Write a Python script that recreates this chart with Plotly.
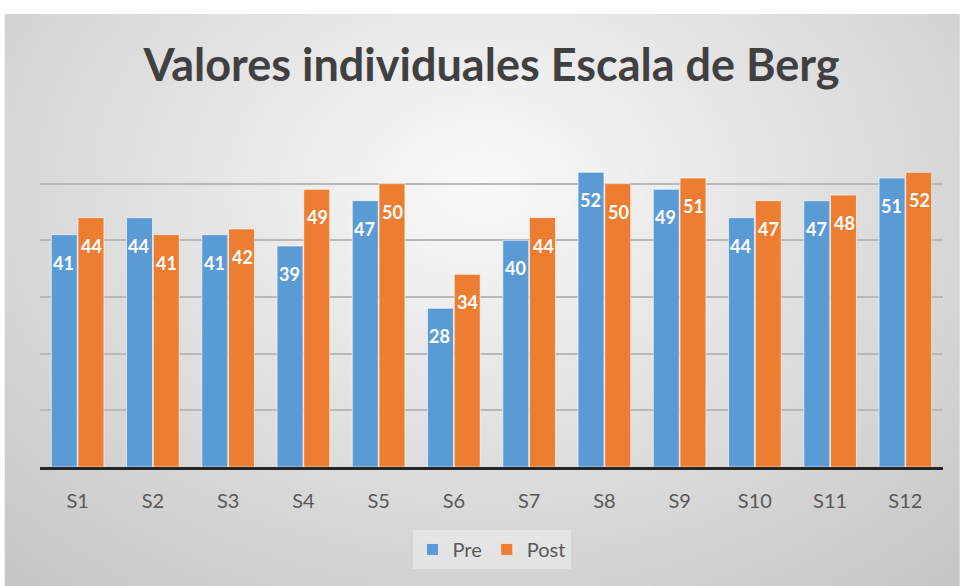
import base64, struct, zlib
import numpy as np
import plotly.graph_objects as go

categories = ["S1", "S2", "S3", "S4", "S5", "S6", "S7", "S8", "S9", "S10", "S11", "S12"]
pre_values = [41, 44, 41, 39, 47, 28, 40, 52, 49, 44, 47, 51]
post_values = [44, 41, 42, 49, 50, 34, 44, 50, 51, 47, 48, 52]
title_text = "Valores individuales Escala de Berg"

PRE_COLOR = "#5B9BD5"
POST_COLOR = "#ED7D31"


def gradient_png(w=240, h=146):
    xs = (np.arange(w) + 0.5) / w
    ys = (np.arange(h) + 0.5) / h
    X, Y = np.meshgrid(xs, ys)
    d = np.sqrt(((X - 0.5) / 0.6) ** 2 + ((Y - 0.3) / 0.75) ** 2)
    g = np.clip(250 - 42 * d, 185, 250).astype(np.uint8)
    raw = b"".join(b"\x00" + g[r].tobytes() for r in range(h))

    def chunk(t, data):
        c = struct.pack(">I", len(data)) + t + data
        return c + struct.pack(">I", zlib.crc32(t + data) & 0xFFFFFFFF)

    png = b"\x89PNG\r\n\x1a\n"
    png += chunk(b"IHDR", struct.pack(">IIBBBBB", w, h, 8, 0, 0, 0, 0))
    png += chunk(b"IDAT", zlib.compress(raw, 9))
    png += chunk(b"IEND", b"")
    return "data:image/png;base64," + base64.b64encode(png).decode()


fig = go.Figure()
fig.add_trace(go.Bar(name="Pre", x=categories, y=pre_values,
                     marker=dict(color=PRE_COLOR, line=dict(color="rgba(255,255,255,0.6)", width=1))))
fig.add_trace(go.Bar(name="Post", x=categories, y=post_values,
                     marker=dict(color=POST_COLOR, line=dict(color="rgba(255,255,255,0.6)", width=1))))

annotations = []
for c, pv, qv in zip(categories, pre_values, post_values):
    for v, sh in ((pv, -14), (qv, 14)):
        annotations.append(dict(x=c, y=v, xref="x", yref="y", text=str(v), showarrow=False,
                                xshift=sh, yshift=-28,
                                font=dict(family="Lato", size=18, color="white", weight="bold")))

fig.update_layout(
    width=960, height=586,
    margin=dict(l=40, r=17, t=127, b=119),
    paper_bgcolor="white",
    plot_bgcolor="rgba(0,0,0,0)",
    barmode="group",
    bargap=0.29,
    bargroupgap=0.03,
    title=dict(text=title_text, x=0.512, xanchor="center", y=0.889, yanchor="middle",
               font=dict(family="Lato", size=45, color="#404040", weight="bold")),
    xaxis=dict(showgrid=False, showline=True, linecolor="#262626", linewidth=3,
               ticks="", ticklabelstandoff=14, tickfont=dict(family="Lato", size=20, color="#595959")),
    yaxis=dict(range=[0, 60], dtick=10, showgrid=True, gridcolor="#b8b8b8", gridwidth=1.5,
               showticklabels=False, zeroline=False, fixedrange=True),
    legend=dict(orientation="h", x=0.5, xanchor="center", y=-0.185, yanchor="top",
                bgcolor="rgba(255,255,255,0.35)", font=dict(family="Lato", size=20, color="#595959"),
                itemwidth=30),
    showlegend=True,
    annotations=annotations,
    images=[dict(source=gradient_png(), xref="paper", yref="paper", x=5 / 960 - 40 / 903, y=1 + (127 - 14) / 340,
                 sizex=955 / 903, sizey=572 / 340, sizing="stretch", xanchor="left", yanchor="top", layer="below")],
)

fig.write_html("out.html", config={"displayModeBar": False},
               post_script="document.body.style.margin='0';document.body.style.overflow='hidden';")
